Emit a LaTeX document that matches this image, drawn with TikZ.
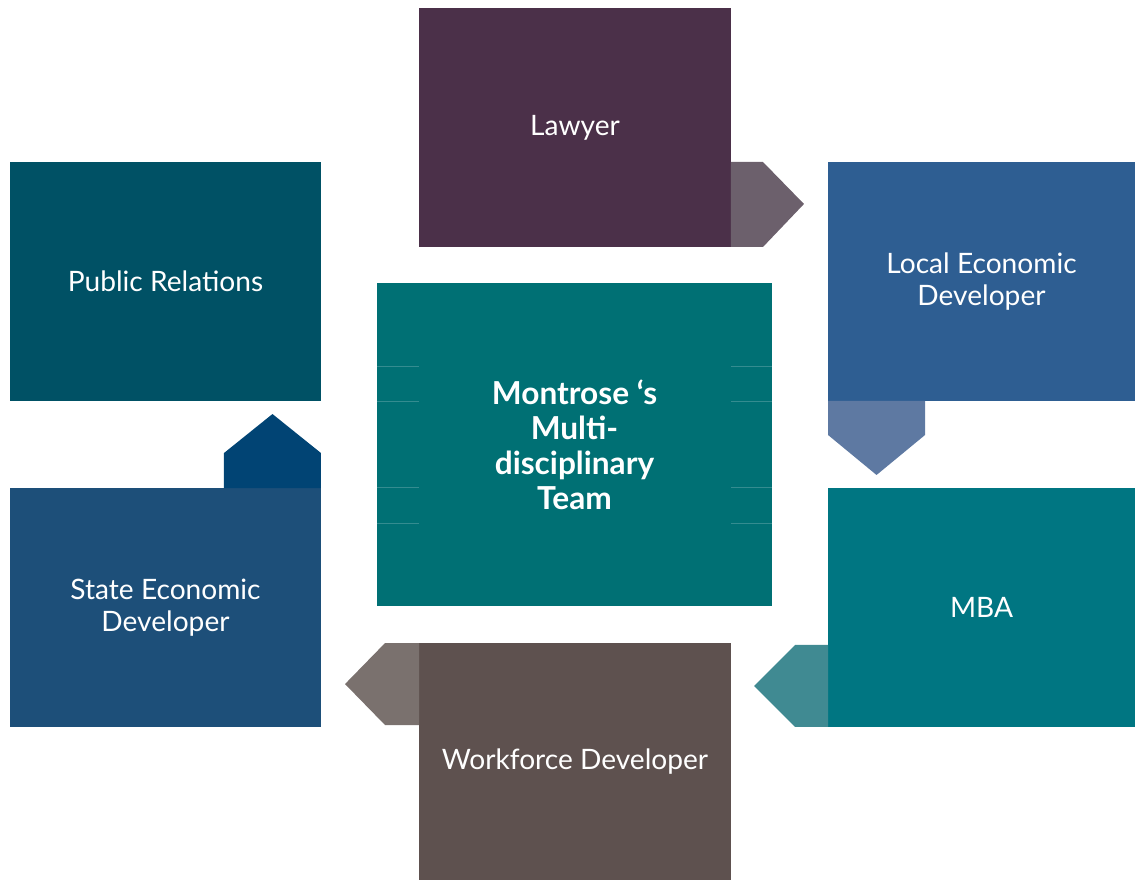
\documentclass[tikz,border=0pt]{standalone}
\usepackage{fontspec}
\setmainfont{Lato}
\usepackage{xcolor}
\usepackage{tikz}
\usetikzlibrary{calc}
\usetikzlibrary{positioning}

\definecolor{lawcol}{RGB}{75,48,73}
\definecolor{lawarr}{RGB}{108,96,108}
\definecolor{loccol}{RGB}{46,94,146}
\definecolor{locarr}{RGB}{94,121,162}
\definecolor{mbacol}{RGB}{0,118,130}
\definecolor{mbaarr}{RGB}{64,138,146}
\definecolor{workcol}{RGB}{94,81,79}
\definecolor{workarr}{RGB}{122,113,110}
\definecolor{statecol}{RGB}{29,79,121}
\definecolor{statearr}{RGB}{1,68,116}
\definecolor{prcol}{RGB}{0,81,101}
\definecolor{teamcol}{RGB}{0,112,116}
\definecolor{teamln}{RGB}{52,140,144}

\begin{document}
\begin{tikzpicture}[x=0.02cm, y=-0.02cm]

                % one pixel per unit, y running down the page
                \tikzset{
                    role/.style={fill=#1, text=white, align=center,
                        inner sep=0pt, outer sep=0pt,
                        font=\fontsize{16}{18}\selectfont,
                        minimum height=4.78cm},
                    wide/.style={minimum width=6.24cm},
                    left/.style={minimum width=6.22cm},
                    right/.style={minimum width=6.14cm}
                }

                \useasboundingbox (0,0) rectangle (1135,880);

                % the six roles round the ring
                \node (law) [role=lawcol, wide] at (575,127.5) {Lawyer};
                \node (loc) [role=loccol, right] at (981.5,281.5)
                {Local Economic\\Developer};
                \node (mba) [role=mbacol, right] at (981.5,607.5) {MBA};
                \node (work) [role=workcol, wide, minimum height=4.74cm]
                at (575,761.5) {Workforce Developer};
                \node (state) [role=statecol, left] at (165.5,607.5)
                {State Economic\\Developer};
                \node (pr) [role=prcol, left] at (165.5,281.5)
                {Public Relations};

                % team box in the middle
                \node (team) [fill=teamcol, text=white, align=center,
                    inner sep=0pt, outer sep=0pt,
                    minimum width=7.9cm, minimum height=6.46cm,
                    font=\fontsize{18}{20}\bfseries\selectfont]
                at (574.5,444.5)
                {Montrose ‘s\\Multi-\\disciplinary\\Team};

                \begin{scope}[teamln, line width=0.4pt]
                    \foreach \yy in {366,401,487,523} {
                        \draw (team.west |- 0,\yy) -- (law.west |- 0,\yy);
                        \draw (law.east |- 0,\yy) -- (team.east |- 0,\yy);
                    }
                \end{scope}

                % arrow heads from one role to the next
                \begin{scope}
                    \fill[lawarr] (law.south east) -- ++(0,-85) -- ++(32,0)
                        -- ++(41,42) -- ++(-41,43) -- cycle;
                    \fill[locarr] (loc.south west) -- ++(97,0) -- ++(0,34)
                        -- ++(-48.5,40) -- ++(-48.5,-40) -- cycle;
                    \fill[mbaarr] (mba.south west) -- ++(0,-82) -- ++(-33,0)
                        -- ++(-41,41) -- ++(41,41) -- cycle;
                    \fill[workarr] (work.north west) -- ++(-34,0) -- ++(-40,41)
                        -- ++(40,41) -- ++(34,0) -- cycle;
                    \fill[statearr] (state.north east) -- ++(-97,0) -- ++(0,-35)
                        -- ++(48.5,-39) -- ++(48.5,39) -- cycle;
                \end{scope}

                \end{tikzpicture}
\end{document}
